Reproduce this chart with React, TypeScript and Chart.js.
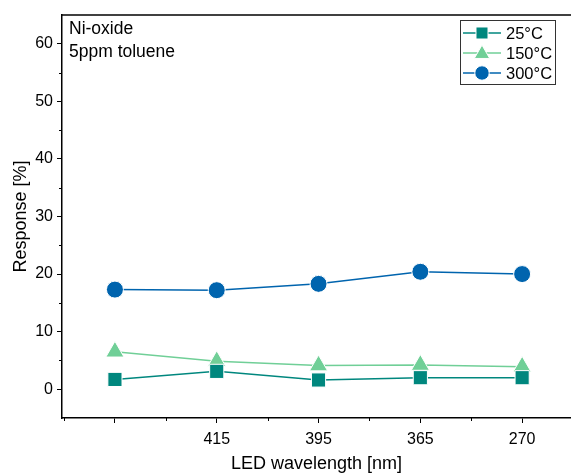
import React, { useEffect, useRef } from "react";
import { Chart, registerables } from "chart.js";

Chart.register(...registerables);

const CATEGORIES = ["", "415", "395", "365", "270"];
const SERIES_NAMES = ["25°C", "150°C", "300°C"];
const VALUES_25 = [1.7, 3.1, 1.6, 2.0, 2.0];
const VALUES_150 = [6.5, 4.85, 4.1, 4.2, 3.9];
const VALUES_300 = [17.3, 17.2, 18.3, 20.4, 20.0];
const Y_TICKS = [0, 10, 20, 30, 40, 50, 60];
const Y_MINOR = [5, 15, 25, 35, 45, 55];
const X_MINOR = [-0.5, 0.5, 1.5, 2.5, 3.5];
const ANNOTATION = ["Ni-oxide", "5ppm toluene"];
const X_MIN = -0.52;
const X_MAX = 4.48;

const COLORS = ["#00877E", "#70CF97", "#0064AE"];
const STYLES: any[] = ["rect", "triangle", "circle"];
const RADII = [10, 10.5, 8.5];
const FONT = "'Liberation Sans', Arial, sans-serif";

function drawMarker(ctx: CanvasRenderingContext2D, style: string, x: number, y: number, r: number) {
  ctx.beginPath();
  if (style === "circle") {
    ctx.arc(x, y, r, 0, Math.PI * 2);
  } else if (style === "rect") {
    const s = r * Math.SQRT1_2;
    ctx.rect(x - s, y - s, 2 * s, 2 * s);
  } else {
    ctx.moveTo(x, y - r);
    ctx.lineTo(x + r * Math.sin((2 * Math.PI) / 3), y - r * Math.cos((2 * Math.PI) / 3));
    ctx.lineTo(x + r * Math.sin((4 * Math.PI) / 3), y - r * Math.cos((4 * Math.PI) / 3));
    ctx.closePath();
  }
  ctx.fill();
  ctx.stroke();
}

const decorPlugin = {
  id: "decor",
  afterDraw(chart: any) {
    const ctx: CanvasRenderingContext2D = chart.ctx;
    const { left, right, top, bottom } = chart.chartArea;
    const xs = chart.scales.x;
    const ys = chart.scales.y;
    ctx.save();
    ctx.strokeStyle = "#000";
    ctx.lineWidth = 1.5;
    // top frame
    ctx.beginPath();
    ctx.moveTo(left - 0.75, top);
    ctx.lineTo(right, top);
    ctx.stroke();
    // minor ticks
    ctx.lineWidth = 1;
    ctx.beginPath();
    Y_MINOR.forEach((v) => {
      const py = Math.round(ys.getPixelForValue(v)) + 0.5;
      ctx.moveTo(left, py);
      ctx.lineTo(left - 3, py);
    });
    X_MINOR.forEach((v) => {
      const px = Math.round(xs.getPixelForValue(v)) + 0.5;
      ctx.moveTo(px, bottom);
      ctx.lineTo(px, bottom + 3);
    });
    ctx.stroke();

    // annotation
    ctx.fillStyle = "#000";
    ctx.font = `17.5px ${FONT}`;
    ctx.textBaseline = "alphabetic";
    ctx.textAlign = "left";
    ctx.fillText(ANNOTATION[0], left + 7, top + 19);
    ctx.fillText(ANNOTATION[1], left + 7, top + 42);

    // legend
    const bx = 460.5, by = 20.5, bw = 95, bh = 64;
    ctx.strokeStyle = "#333";
    ctx.lineWidth = 1;
    ctx.strokeRect(bx, by, bw, bh);
    const rows = [33, 53, 73];
    ctx.font = `16.5px ${FONT}`;
    ctx.textBaseline = "middle";
    SERIES_NAMES.forEach((name, i) => {
      const y = rows[i];
      ctx.strokeStyle = COLORS[i];
      ctx.lineWidth = 1.5;
      ctx.beginPath();
      ctx.moveTo(463, y);
      ctx.lineTo(501, y);
      ctx.stroke();
      ctx.fillStyle = COLORS[i];
      ctx.strokeStyle = "#fff";
      ctx.lineWidth = 1;
      drawMarker(ctx, STYLES[i], 482, y + (STYLES[i] === "triangle" ? 1 : 0), RADII[i] * 0.85);
      ctx.fillStyle = "#000";
      ctx.fillText(name, 506, y + 1);
    });
    ctx.restore();
  },
};

export default function App() {
  const ref = useRef<HTMLCanvasElement>(null);
  useEffect(() => {
    if (!ref.current) return;
    const allValues = [VALUES_25, VALUES_150, VALUES_300];
    const chart = new Chart(ref.current, {
      type: "line",
      data: {
        datasets: allValues.map((vals, i) => ({
          label: SERIES_NAMES[i],
          data: vals.map((v, j) => ({ x: j, y: v })),
          borderColor: COLORS[i],
          backgroundColor: COLORS[i],
          borderWidth: 1.5,
          pointStyle: STYLES[i],
          pointRadius: RADII[i],
          pointBackgroundColor: COLORS[i],
          pointBorderColor: "#ffffff",
          pointBorderWidth: 1,
          tension: 0,
          clip: false as any,
        })),
      },
      plugins: [decorPlugin],
      options: {
        responsive: false,
        animation: false,
        events: [],
        layout: { autoPadding: false, padding: { top: 15, right: 0, left: 0, bottom: 0 } },
        plugins: {
          legend: { display: false },
          tooltip: { enabled: false },
        },
        scales: {
          x: {
            type: "linear",
            min: X_MIN,
            max: X_MAX,
            afterBuildTicks: (scale: any) => {
              scale.ticks = CATEGORIES.map((_, i) => ({ value: i }));
            },
            afterFit: (scale: any) => {
              scale.height = 57;
            },
            ticks: {
              color: "#000",
              font: { family: FONT, size: 16 },
              padding: 7,
              maxRotation: 0,
              autoSkip: false,
              callback: (v: any) => {
                const n = Number(v);
                return Number.isInteger(n) ? CATEGORIES[n] ?? "" : "";
              },
            },
            grid: { drawOnChartArea: false, drawTicks: true, tickLength: 5, color: "#000", lineWidth: 1 },
            border: { display: true, color: "#000", width: 1.5 },
            title: {
              display: true,
              text: "LED wavelength [nm]",
              color: "#000",
              font: { family: FONT, size: 18 },
              padding: { top: 0, bottom: 0 },
            },
          },
          y: {
            type: "linear",
            min: -5,
            max: 65,
            afterBuildTicks: (scale: any) => {
              scale.ticks = Y_TICKS.map((v) => ({ value: v }));
            },
            afterFit: (scale: any) => {
              scale.width = 62;
            },
            ticks: {
              color: "#000",
              font: { family: FONT, size: 16 },
              padding: 4,
            },
            grid: { drawOnChartArea: false, drawTicks: true, tickLength: 5, color: "#000", lineWidth: 1 },
            border: { display: true, color: "#000", width: 1.5 },
            title: {
              display: true,
              text: "Response [%]",
              color: "#000",
              font: { family: FONT, size: 18 },
              padding: { top: 10, bottom: 0 },
            },
          },
        },
      },
    } as any);
    return () => chart.destroy();
  }, []);
  return (
    <div style={{ position: "absolute", left: 0, top: 0, width: 571, height: 475, background: "#fff" }}>
      <canvas ref={ref} width={571} height={475} />
    </div>
  );
}
